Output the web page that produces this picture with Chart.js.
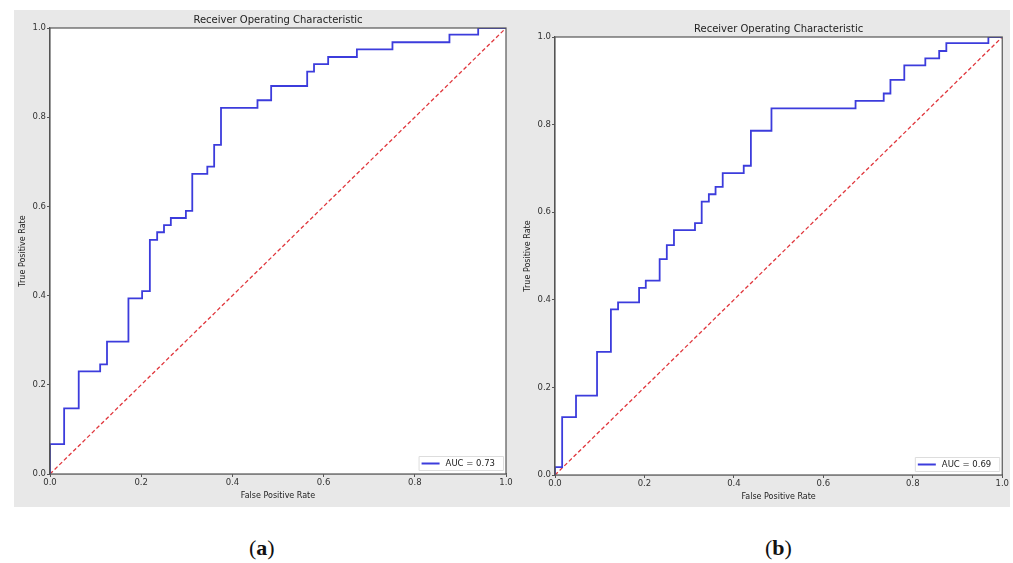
<!DOCTYPE html>
<html>
<head>
<meta charset="utf-8">
<script src="https://cdn.jsdelivr.net/npm/chart.js@4.4.1/dist/chart.umd.min.js"></script>
<style>
  html, body { margin: 0; padding: 0; background: #ffffff; width: 1013px; height: 563px; overflow: hidden; }
  #bg { position: absolute; left: 14px; top: 10px; width: 996px; height: 497px; background: #e8e8e8; }
  .cv { position: absolute; }
  .lab { position: absolute; top: 535px; font-family: "Liberation Serif", "DejaVu Serif", serif; font-size: 22px; color: #111; }
</style>
</head>
<body>
<div id="bg"></div>
<div class="cv" style="left:14px; top:10px; width:506px; height:497px;"><canvas id="ca" width="506" height="497"></canvas></div>
<div class="cv" style="left:520px; top:10px; width:490px; height:497px;"><canvas id="cb" width="490" height="497"></canvas></div>
<div class="lab" style="left:249px;">(<b>a</b>)</div>
<div class="lab" style="left:765px;">(<b>b</b>)</div>
<script>
// ---- Data ----
const titleText = "Receiver Operating Characteristic";
const xAxisLabel = "False Positive Rate";
const yAxisLabel = "True Positive Rate";
const tickValues = [0.0, 0.2, 0.4, 0.6, 0.8, 1.0];

const fprA = [0.000, 0.000, 0.031, 0.031, 0.063, 0.063, 0.110, 0.110, 0.125, 0.125, 0.172, 0.172, 0.202, 0.202, 0.219, 0.219,
              0.235, 0.235, 0.250, 0.250, 0.265, 0.265, 0.298, 0.298, 0.312, 0.312, 0.345, 0.345, 0.360, 0.360, 0.375, 0.375,
              0.455, 0.455, 0.485, 0.485, 0.564, 0.564, 0.579, 0.579, 0.610, 0.610, 0.673, 0.673, 0.751, 0.751, 0.876, 0.876,
              0.939, 0.939, 1.000];
const tprA = [0.000, 0.067, 0.067, 0.147, 0.147, 0.230, 0.230, 0.246, 0.246, 0.297, 0.297, 0.394, 0.394, 0.410, 0.410, 0.525,
              0.525, 0.542, 0.542, 0.558, 0.558, 0.574, 0.574, 0.590, 0.590, 0.673, 0.673, 0.689, 0.689, 0.738, 0.738, 0.821,
              0.821, 0.838, 0.838, 0.870, 0.870, 0.902, 0.902, 0.919, 0.919, 0.935, 0.935, 0.952, 0.952, 0.968, 0.968, 0.985,
              0.985, 1.000, 1.000];
const aucA = 0.73;

const fprB = [0.000, 0.000, 0.016, 0.016, 0.047, 0.047, 0.094, 0.094, 0.125, 0.125, 0.141, 0.141, 0.188, 0.188, 0.203, 0.203,
              0.234, 0.234, 0.250, 0.250, 0.266, 0.266, 0.313, 0.313, 0.328, 0.328, 0.344, 0.344, 0.359, 0.359, 0.375, 0.375,
              0.422, 0.422, 0.438, 0.438, 0.484, 0.484, 0.672, 0.672, 0.735, 0.735, 0.750, 0.750, 0.781, 0.781, 0.828, 0.828,
              0.859, 0.859, 0.875, 0.875, 0.969, 0.969, 1.000];
const tprB = [0.000, 0.018, 0.018, 0.132, 0.132, 0.181, 0.181, 0.281, 0.281, 0.378, 0.378, 0.394, 0.394, 0.427, 0.427, 0.444,
              0.444, 0.493, 0.493, 0.525, 0.525, 0.559, 0.559, 0.575, 0.575, 0.624, 0.624, 0.641, 0.641, 0.658, 0.658, 0.689,
              0.689, 0.706, 0.706, 0.786, 0.786, 0.837, 0.837, 0.854, 0.854, 0.871, 0.871, 0.902, 0.902, 0.935, 0.935, 0.951,
              0.951, 0.968, 0.968, 0.986, 0.986, 1.000, 1.000];
const aucB = 0.69;

const diagX = [0, 1];
const diagY = [0, 1];

// ---- Chart building ----
const FONT = '"DejaVu Sans", sans-serif';
const TEXT = '#333333';

const axesPlugin = {
  id: 'axesDeco',
  beforeDatasetsDraw(chart) {
    const {ctx, chartArea: a} = chart;
    ctx.save();
    ctx.fillStyle = '#ffffff';
    ctx.fillRect(a.left, a.top, a.right - a.left, a.bottom - a.top);
    ctx.restore();
  },
  afterDatasetsDraw(chart) {
    const {ctx, chartArea: a} = chart;
    ctx.save();
    ctx.strokeStyle = '#555555';
    ctx.lineWidth = 1.2;
    ctx.strokeRect(a.left, a.top, a.right - a.left, a.bottom - a.top);
    // title centered over axes
    ctx.fillStyle = '#222222';
    ctx.font = '10px ' + FONT;
    ctx.textAlign = 'center';
    ctx.textBaseline = 'bottom';
    ctx.fillText(titleText, (a.left + a.right) / 2, a.top - 3);
    // legend lower right
    const ds = chart.data.datasets[0];
    ctx.font = '8.5px ' + FONT;
    const tw = ctx.measureText(ds.label).width;
    const bw = 6 + 18 + 6 + tw + 5, bh = 14;
    const bx = a.right - 3 - bw, by = a.bottom - 4 - bh;
    ctx.fillStyle = 'rgba(255,255,255,0.9)';
    ctx.strokeStyle = '#dddddd';
    ctx.lineWidth = 1;
    ctx.beginPath();
    ctx.rect(bx + 0.5, by + 0.5, bw, bh);
    ctx.fill(); ctx.stroke();
    ctx.strokeStyle = ds.borderColor;
    ctx.lineWidth = 2;
    ctx.beginPath();
    ctx.moveTo(bx + 3, by + bh / 2 + 0.5);
    ctx.lineTo(bx + 21, by + bh / 2 + 0.5);
    ctx.stroke();
    ctx.fillStyle = '#222222';
    ctx.textAlign = 'left';
    ctx.textBaseline = 'middle';
    ctx.fillText(ds.label, bx + 27, by + bh / 2 + 1);
    ctx.restore();
  }
};

function pts(xs, ys) { return xs.map((x, i) => ({x: x, y: ys[i]})); }

function makeChart(id, fpr, tpr, auc, geo) {
  return new Chart(document.getElementById(id), {
    type: 'scatter',
    data: {
      datasets: [
        { label: 'AUC = ' + auc.toFixed(2), data: pts(fpr, tpr), showLine: true, borderColor: '#3c3cdc',
          borderWidth: 1.8, pointRadius: 0, tension: 0, fill: false },
        { label: 'chance', data: pts(diagX, diagY), showLine: true, borderColor: '#e0373d',
          borderWidth: 1.3, borderDash: [4, 2.5], pointRadius: 0, fill: false }
      ]
    },
    options: {
      responsive: false,
      animation: false,
      layout: { padding: { left: geo.left, top: geo.top, right: geo.right, bottom: geo.bottom } },
      plugins: { legend: { display: false }, title: { display: false }, tooltip: { enabled: false } },
      scales: {
        x: {
          type: 'linear', min: 0, max: 1,
          afterBuildTicks: s => { s.ticks = tickValues.map(v => ({value: v})); },
          afterFit: s => { s.height = geo.xh; },
          ticks: { callback: v => Number(v).toFixed(1), font: { family: FONT, size: 8.5 }, color: TEXT, padding: 1, maxRotation: 0 },
          grid: { display: true, drawOnChartArea: false, drawTicks: true, tickLength: 3, color: '#555555' },
          border: { display: true, color: '#555555', width: 1.2 },
          title: { display: true, text: xAxisLabel, font: { family: FONT, size: 8 }, color: '#222222', padding: { top: 1, bottom: 0 } }
        },
        y: {
          type: 'linear', min: 0, max: 1,
          afterBuildTicks: s => { s.ticks = tickValues.map(v => ({value: v})); },
          afterFit: s => { s.width = geo.yw; },
          ticks: { callback: v => Number(v).toFixed(1), font: { family: FONT, size: 8.5 }, color: TEXT, padding: 1 },
          grid: { display: true, drawOnChartArea: false, drawTicks: true, tickLength: 3, color: '#555555' },
          border: { display: true, color: '#555555', width: 1.2 },
          title: { display: true, text: yAxisLabel, font: { family: FONT, size: 8 }, color: '#222222', padding: { top: 0, bottom: 4 } }
        }
      }
    },
    plugins: [axesPlugin]
  });
}

makeChart('ca', fprA, tprA, aucA, { left: 4, top: 18, right: 14, bottom: 6, xh: 27, yw: 32 });
makeChart('cb', fprB, tprB, aucB, { left: 3, top: 27, right: 7, bottom: 5, xh: 27, yw: 32 });
</script>
</body>
</html>
